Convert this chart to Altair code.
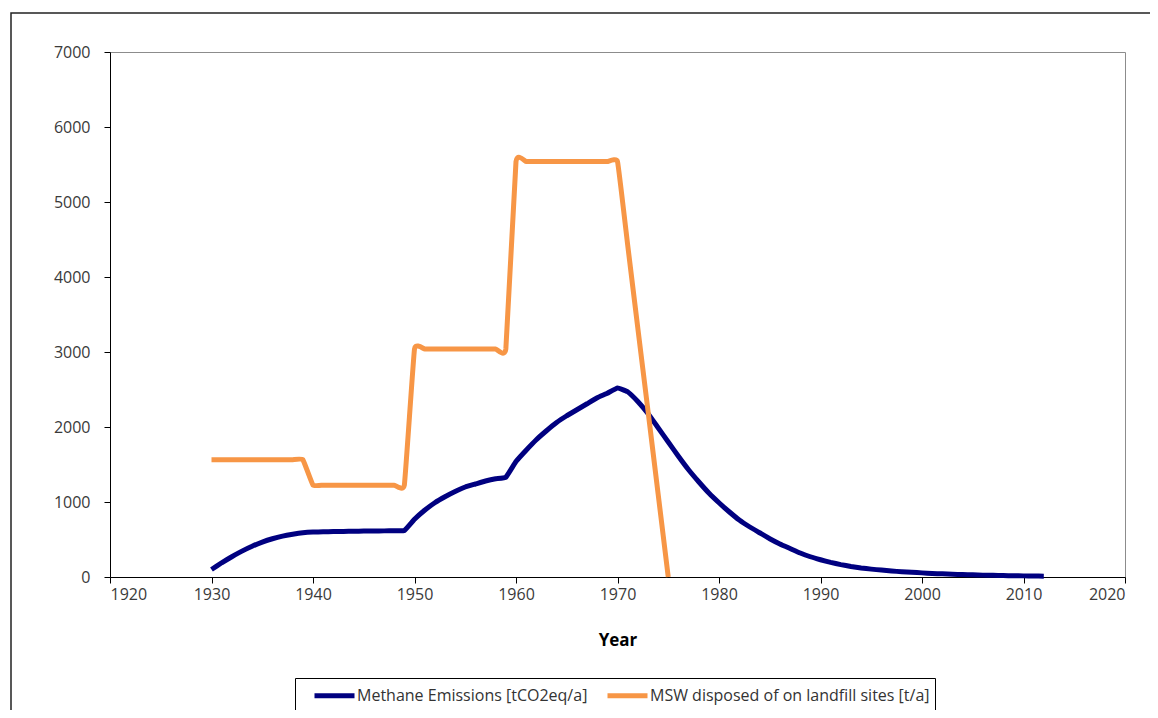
import altair as alt
import pandas as pd

# ---- data ----
methane_years = [1930, 1931, 1932, 1933, 1934, 1935, 1936, 1937, 1938, 1939,
                 1940, 1941, 1942, 1943, 1944, 1945, 1946, 1947, 1948, 1949,
                 1950, 1951, 1952, 1953, 1954, 1955, 1956, 1957, 1958, 1959,
                 1960, 1961, 1962, 1963, 1964, 1965, 1966, 1967, 1968, 1969,
                 1970, 1971, 1972, 1973, 1974, 1975, 1976, 1977, 1978, 1979,
                 1980, 1981, 1982, 1983, 1984, 1985, 1986, 1987, 1988, 1989,
                 1990, 1991, 1992, 1993, 1994, 1995, 1996, 1997, 1998, 1999,
                 2000, 2001, 2002, 2003, 2004, 2005, 2006, 2007, 2008, 2009,
                 2010, 2011, 2012]
methane_values = [100, 190, 270, 345, 410, 465, 510, 545, 570, 590,
                  600, 603, 606, 608, 610, 612, 614, 615, 617, 620,
                  770, 890, 990, 1070, 1140, 1200, 1240, 1280, 1310, 1330,
                  1540, 1690, 1830, 1950, 2060, 2150, 2230, 2310, 2390, 2450,
                  2520, 2470, 2340, 2180, 1990, 1800, 1610, 1430, 1270, 1120,
                  990, 870, 760, 670, 590, 510, 440, 380, 320, 270,
                  230, 195, 165, 140, 120, 105, 92, 80, 70, 62,
                  55, 48, 42, 37, 33, 29, 25, 22, 19, 17,
                  15, 13, 11]

msw_years = [1930, 1931, 1932, 1933, 1934, 1935, 1936, 1937, 1938, 1939,
             1940, 1941, 1942, 1943, 1944, 1945, 1946, 1947, 1948, 1949,
             1950, 1951, 1952, 1953, 1954, 1955, 1956, 1957, 1958, 1959,
             1960, 1961, 1962, 1963, 1964, 1965, 1966, 1967, 1968, 1969,
             1970, 1971, 1972, 1973, 1974, 1975]
msw_values = [1565, 1565, 1565, 1565, 1565, 1565, 1565, 1565, 1565, 1565,
              1225, 1225, 1225, 1225, 1225, 1225, 1225, 1225, 1225, 1225,
              3040, 3040, 3040, 3040, 3040, 3040, 3040, 3040, 3040, 3040,
              5540, 5540, 5540, 5540, 5540, 5540, 5540, 5540, 5540, 5540,
              5540, 4430, 3320, 2220, 1110, 0]

x_ticks = [1920, 1930, 1940, 1950, 1960, 1970, 1980, 1990, 2000, 2010, 2020]
y_ticks = [0, 1000, 2000, 3000, 4000, 5000, 6000, 7000]

S1 = "Methane Emissions [tCO2eq/a]"
S2 = "MSW disposed of on landfill sites [t/a]"

rows = [{"Year": y, "Value": v, "Series": S1} for y, v in zip(methane_years, methane_values)]
rows += [{"Year": y, "Value": v, "Series": S2} for y, v in zip(msw_years, msw_values)]
df = pd.DataFrame(rows)

W, H = 1015, 525
FONT = "Open Sans"

lines = alt.Chart(df).mark_line(interpolate="cardinal", tension=0.7,
                                strokeWidth=5, clip=False).encode(
    x=alt.X("Year:Q",
            scale=alt.Scale(domain=[1920, 2020], nice=False, zero=False),
            axis=alt.Axis(values=x_ticks, format="d", title="Year", grid=False,
                          labelPadding=3, titlePadding=30, titleFontSize=17,
                          titleFontWeight="bold", titleColor="#000000")),
    y=alt.Y("Value:Q",
            scale=alt.Scale(domain=[0, 7000], nice=False),
            axis=alt.Axis(values=y_ticks, format="d", title=None, grid=False,
                          labelPadding=14)),
    color=alt.Color("Series:N",
                    scale=alt.Scale(domain=[S1, S2], range=["#000080", "#F79646"]),
                    legend=alt.Legend(orient="none", legendX=185, legendY=626,
                                      direction="horizontal", title=None,
                                      strokeColor="#000000", padding=5,
                                      symbolType="M-2,0H2", symbolSize=400,
                                      symbolStrokeWidth=5, symbolOffset=22,
                                      labelFontSize=16,
                                      labelFont=FONT, labelColor="#333333",
                                      labelLimit=400, labelOffset=10,
                                      columnPadding=5)),
    order=alt.Order("Year:Q"),
)

border = alt.Chart(pd.DataFrame({"k": [0]})).mark_rect(
    fillOpacity=0, stroke="#222222", strokeWidth=1.5, clip=False
).encode(
    x=alt.value(-99), x2=alt.value(W + 100),
    y=alt.value(-39), y2=alt.value(H + 300),
)

chart = alt.layer(border, lines).properties(
    width=W, height=H,
    autosize=alt.AutoSizeParams(type="none"),
    padding={"left": 102, "top": 44, "right": 25, "bottom": 133},
    background="white",
).configure_view(
    stroke="#8c8c8c", strokeWidth=1
).configure_axis(
    domainColor="#000000", tickColor="#000000", tickSize=6,
    labelFont=FONT, labelFontSize=16, labelColor="#3a3a3a",
    titleFont=FONT,
)

chart.save("out.html", embed_options={"renderer": "svg", "actions": False})
